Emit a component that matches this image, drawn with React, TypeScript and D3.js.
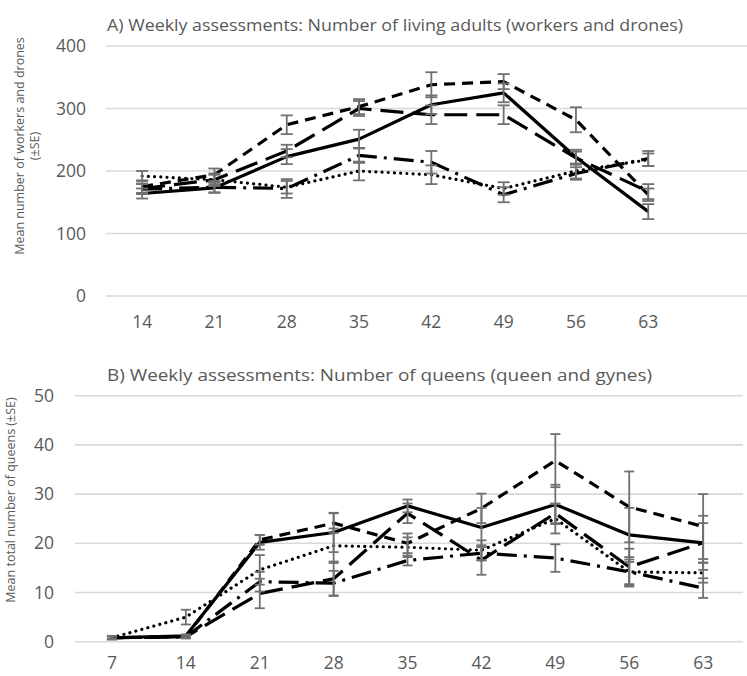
import React from "react";
import * as d3 from "d3";

// ---------- Panel A data ----------
const topCats = [14, 21, 28, 35, 42, 49, 56, 63];
const topTicks = [0, 100, 200, 300, 400];
const topSolid = [164, 173, 223, 251, 306, 325, 222, 135];
const topSolidSE = [8, 8, 12, 15, 15, 15, 12, 12];
const topShortDash = [175, 194, 274, 303, 338, 343, 282, 162];
const topShortDashSE = [10, 10, 15, 12, 20, 12, 20, 10];
const topLongDash = [172, 186, 232, 300, 290, 290, 221, 167];
const topLongDashSE = [8, 10, 10, 12, 15, 15, 10, 12];
const topDashDot = [171, 174, 172, 225, 214, 162, 196, 220];
const topDashDotSE = [8, 8, 15, 12, 18, 12, 10, 12];
const topDotted = [192, 186, 174, 200, 194, 172, 200, 218];
const topDottedSE = [8, 8, 10, 15, 15, 10, 12, 10];

// ---------- Panel B data ----------
const botCats = [7, 14, 21, 28, 35, 42, 49, 56, 63];
const botTicks = [0, 10, 20, 30, 40, 50];
const botSolid = [0.8, 1.2, 20.2, 22.2, 27.6, 23.2, 27.9, 21.7, 20.1];
const botSolidSE = [0.3, 0.3, 1.5, 4, 1.3, 4, 4, 5.5, 5.5];
const botShortDash = [0.8, 1.0, 20.7, 24.1, 20.0, 27.1, 36.8, 27.4, 23.4];
const botShortDashSE = [0.3, 0.3, 1.0, 2, 2, 3, 5.4, 7.2, 6.6];
const botLongDash = [0.8, 1.0, 9.8, 12.8, 26.1, 16.6, 26.1, 15.2, 20.1];
const botLongDashSE = [0.3, 0.3, 3, 3.5, 2, 3, 2, 3.7, 4];
const botDashDot = [0.8, 1.0, 12.2, 11.9, 16.5, 18.0, 17.0, 14.2, 10.9];
const botDashDotSE = [0.3, 0.3, 2, 2.5, 1, 1.5, 2.8, 2.5, 2];
const botDotted = [0.8, 5.0, 14.6, 19.5, 19.2, 18.6, 25.0, 14.2, 14.0];
const botDottedSE = [0.3, 1.5, 3, 3.5, 2, 2, 3, 3, 2];

const styles = {
  solid: { dash: "none", cap: "butt" },
  shortDash: { dash: "11,7", cap: "butt" },
  longDash: { dash: "23,9", cap: "butt" },
  dashDot: { dash: "20,7,3,7", cap: "butt" },
  dotted: { dash: "0.01,6.2", cap: "round" },
};

const GRID = "#d9d9d9";
const TEXT = "#595959";
const ERR = "#707070";
const FONT = "'Open Sans', 'Noto Sans', sans-serif";

type Series = { vals: number[]; se: number[]; style: keyof typeof styles };

function Panel({
  cats, ticks, series, x0, x1, gridRight, yTop, yBottom, yMax, labelX, title, titleY, titleLen,
  capW, yTitleLines, yTitleCenter, yTitleXs, xLabelOffset,
}: {
  cats: number[]; ticks: number[]; series: Series[]; x0: number; x1: number; gridRight: number;
  yTop: number; yBottom: number; yMax: number; labelX: number; title: string; titleY: number;
  titleLen: number; capW: number; yTitleLines: string[]; yTitleCenter: number; yTitleXs: number[];
  xLabelOffset: number;
}) {
  const x = d3.scaleBand<number>().domain(cats).range([x0, x1]);
  const y = d3.scaleLinear().domain([0, yMax]).range([yBottom, yTop]);
  const cx = (c: number) => (x(c) as number) + x.bandwidth() / 2;
  const line = d3
    .line<number>()
    .x((_, i) => cx(cats[i]))
    .y((v) => y(v));
  return (
    <g>
      <text x={107} y={titleY} fontSize={17} fill={TEXT} fontFamily={FONT}
        textLength={titleLen} lengthAdjust="spacingAndGlyphs">{title}</text>
      {ticks.map((t) => (
        <g key={t}>
          <line x1={x0} x2={gridRight} y1={y(t)} y2={y(t)} stroke={GRID} strokeWidth={1.6} />
          <text x={labelX} y={y(t) + 6} textAnchor="end" fontSize={17.5} fill={TEXT} fontFamily={FONT}>{t}</text>
        </g>
      ))}
      {cats.map((c) => (
        <text key={c} x={cx(c)} y={yBottom + xLabelOffset} textAnchor="middle" fontSize={17.5} fill={TEXT} fontFamily={FONT}>{c}</text>
      ))}
      {yTitleLines.map((s, i) => (
        <text key={i} transform={`translate(${yTitleXs[i]},${yTitleCenter}) rotate(-90)`} textAnchor="middle"
          fontSize={12.5} fill={TEXT} fontFamily={FONT}>{s}</text>
      ))}
      {series.map((s, k) => (
        <path key={"l" + k} d={line(s.vals) || ""} fill="none" stroke="#000" strokeWidth={3.2}
          strokeDasharray={styles[s.style].dash} strokeLinecap={styles[s.style].cap as any} strokeLinejoin="round" />
      ))}
      {series.map((s, k) => (
        <g key={"e" + k}>
          {s.vals.map((v, i) => {
            const px = cx(cats[i]);
            const hi = y(v + s.se[i]);
            const lo = y(Math.max(0, v - s.se[i]));
            return (
              <g key={i} stroke={ERR} strokeWidth={1.8}>
                <line x1={px} x2={px} y1={hi} y2={lo} />
                <line x1={px - capW / 2} x2={px + capW / 2} y1={hi} y2={hi} />
                <line x1={px - capW / 2} x2={px + capW / 2} y1={lo} y2={lo} />
              </g>
            );
          })}
        </g>
      ))}
    </g>
  );
}

export default function App() {
  const topSeries: Series[] = [
    { vals: topDotted, se: topDottedSE, style: "dotted" },
    { vals: topDashDot, se: topDashDotSE, style: "dashDot" },
    { vals: topLongDash, se: topLongDashSE, style: "longDash" },
    { vals: topShortDash, se: topShortDashSE, style: "shortDash" },
    { vals: topSolid, se: topSolidSE, style: "solid" },
  ];
  const botSeries: Series[] = [
    { vals: botDotted, se: botDottedSE, style: "dotted" },
    { vals: botDashDot, se: botDashDotSE, style: "dashDot" },
    { vals: botLongDash, se: botLongDashSE, style: "longDash" },
    { vals: botShortDash, se: botShortDashSE, style: "shortDash" },
    { vals: botSolid, se: botSolidSE, style: "solid" },
  ];
  return (
    <svg width={747} height={676} style={{ position: "absolute", left: 0, top: 0, background: "#fff" }}>
      <rect width={747} height={676} fill="#fff" />
      <Panel
        cats={topCats} ticks={topTicks} series={topSeries}
        x0={106} x1={106 + 8 * 72.3} gridRight={747}
        yTop={46} yBottom={296} yMax={400} labelX={86}
        title="A) Weekly assessments: Number of living adults (workers and drones)"
        titleY={31} titleLen={576} capW={12}
        yTitleLines={["Mean number of workers and drones", "(±SE)"]}
        yTitleCenter={146} yTitleXs={[24, 39]} xLabelOffset={32}
      />
      <Panel
        cats={botCats} ticks={botTicks} series={botSeries}
        x0={75} x1={75 + 9 * 73.9} gridRight={743}
        yTop={395.7} yBottom={641.7} yMax={50} labelX={54}
        title="B) Weekly assessments: Number of queens (queen and gynes)"
        titleY={381} titleLen={545} capW={10}
        yTitleLines={["Mean total number of queens (±SE)"]}
        yTitleCenter={500} yTitleXs={[15]} xLabelOffset={27}
      />
    </svg>
  );
}
